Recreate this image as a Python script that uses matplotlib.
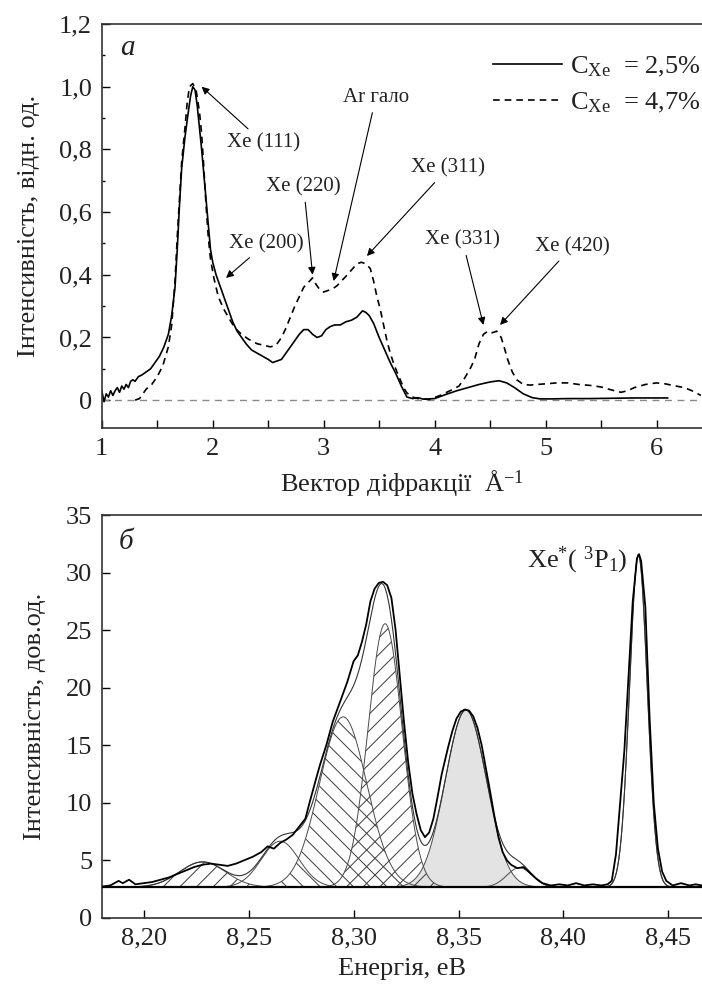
import numpy as np
import matplotlib.pyplot as plt
from matplotlib.ticker import MultipleLocator, FuncFormatter

plt.rcParams['font.family'] = ['Liberation Serif', 'DejaVu Serif']
plt.rcParams['mathtext.fontset'] = 'custom'
plt.rcParams['mathtext.rm'] = 'Liberation Serif'
plt.rcParams['mathtext.it'] = 'Liberation Serif:italic'
plt.rcParams['hatch.linewidth'] = 0.7
plt.rcParams['hatch.color'] = '#3a3a3a'

# --- панель а: дифракція ---
sol_x = [1.00, 1.02, 1.04, 1.06, 1.08, 1.10, 1.12, 1.14, 1.16, 1.18, 1.20, 1.22, 1.24,
         1.26, 1.28, 1.30, 1.33, 1.36, 1.40, 1.44, 1.48, 1.52, 1.56, 1.60, 1.63, 1.66,
         1.68, 1.70, 1.72, 1.75, 1.78, 1.80, 1.82, 1.84, 1.86, 1.88, 1.90, 1.92, 1.95,
         1.98, 2.00, 2.03, 2.06, 2.10, 2.14, 2.18, 2.22, 2.26, 2.30, 2.35, 2.40, 2.45,
         2.50, 2.54, 2.58, 2.62, 2.66, 2.70, 2.74, 2.78, 2.82, 2.86, 2.90, 2.94, 2.98,
         3.02, 3.06, 3.10, 3.15, 3.20, 3.25, 3.30, 3.35, 3.38, 3.41, 3.45, 3.50, 3.55,
         3.60, 3.65, 3.70, 3.75, 3.80, 3.85, 3.90, 3.95, 4.00, 4.10, 4.20, 4.30, 4.40,
         4.50, 4.58, 4.65, 4.72, 4.80, 4.88, 4.95, 5.05, 5.20, 5.40, 5.60, 5.80, 6.00, 6.10]
sol_y = [0.03, -0.005, 0.02, 0.01, 0.03, 0.015, 0.03, 0.04, 0.025, 0.045, 0.035, 0.05, 0.04,
         0.06, 0.065, 0.06, 0.075, 0.08, 0.09, 0.10, 0.12, 0.14, 0.17, 0.21, 0.27, 0.36,
         0.48, 0.62, 0.74, 0.84, 0.92, 0.97, 1.00, 0.99, 0.94, 0.87, 0.80, 0.72, 0.60,
         0.48, 0.44, 0.40, 0.37, 0.33, 0.29, 0.25, 0.22, 0.20, 0.18, 0.16, 0.15, 0.14,
         0.13, 0.12, 0.125, 0.13, 0.15, 0.17, 0.19, 0.21, 0.225, 0.225, 0.21, 0.20, 0.205,
         0.225, 0.235, 0.24, 0.24, 0.25, 0.255, 0.265, 0.285, 0.28, 0.27, 0.245, 0.20, 0.16,
         0.12, 0.085, 0.045, 0.01, 0.005, 0.008, 0.003, 0.004, 0.005, 0.018, 0.03, 0.04, 0.05,
         0.058, 0.062, 0.055, 0.04, 0.02, 0.008, 0.004, 0.004, 0.005, 0.005, 0.006, 0.007, 0.007, 0.007]

dash_x = [1.30, 1.34, 1.37, 1.40, 1.45, 1.50, 1.55, 1.60, 1.63, 1.66, 1.68, 1.70, 1.72, 1.75,
          1.77, 1.79, 1.82, 1.85, 1.88, 1.90, 1.92, 1.94, 1.96, 1.98, 2.01, 2.05, 2.10, 2.14,
          2.20, 2.26, 2.32, 2.40, 2.46, 2.52, 2.57, 2.62, 2.66, 2.70, 2.74, 2.78, 2.82, 2.86,
          2.90, 2.93, 2.96, 3.00, 3.04, 3.08, 3.12, 3.16, 3.20, 3.25, 3.30, 3.34, 3.38, 3.42,
          3.45, 3.48, 3.51, 3.54, 3.57, 3.60, 3.63, 3.66, 3.69, 3.72, 3.75, 3.80, 3.85, 3.95,
          4.05, 4.15, 4.22, 4.27, 4.32, 4.36, 4.40, 4.44, 4.48, 4.52, 4.56, 4.60, 4.63, 4.66,
          4.70, 4.74, 4.80, 4.86, 4.92, 5.00, 5.10, 5.20, 5.30, 5.40, 5.50, 5.60, 5.68, 5.74,
          5.80, 5.90, 6.00, 6.08, 6.16, 6.25, 6.32, 6.40]
dash_y = [0.0, 0.005, 0.02, 0.035, 0.05, 0.075, 0.11, 0.17, 0.24, 0.38, 0.52, 0.64, 0.76, 0.87,
          0.95, 1.00, 1.01, 0.99, 0.92, 0.85, 0.74, 0.62, 0.52, 0.45, 0.39, 0.33, 0.29, 0.265,
          0.23, 0.21, 0.195, 0.18, 0.175, 0.17, 0.175, 0.20, 0.23, 0.265, 0.30, 0.33, 0.36, 0.375,
          0.39, 0.37, 0.355, 0.345, 0.35, 0.355, 0.365, 0.38, 0.395, 0.415, 0.435, 0.44, 0.435, 0.42,
          0.38, 0.33, 0.29, 0.24, 0.19, 0.15, 0.118, 0.09, 0.065, 0.04, 0.023, 0.01, 0.005, 0.002,
          0.015, 0.032, 0.045, 0.07, 0.10, 0.13, 0.18, 0.21, 0.22, 0.215, 0.22, 0.20, 0.165, 0.128,
          0.09, 0.065, 0.05, 0.048, 0.05, 0.052, 0.055, 0.055, 0.05, 0.047, 0.042, 0.032, 0.025, 0.03,
          0.04, 0.05, 0.055, 0.052, 0.046, 0.04, 0.03, 0.015]

# підписи рефлексів: текст, (x,y) тексту, (x,y) вістря
peak_labels = ['Xe (111)', 'Xe (200)', 'Xe (220)', 'Ar гало', 'Xe (311)', 'Xe (331)', 'Xe (420)']
label_xy = [(2.46, 0.82), (2.48, 0.50), (2.82, 0.68), (3.47, 0.965), (4.12, 0.74), (4.25, 0.51), (5.24, 0.49)]
tip_xy = [(1.90, 1.0), (2.12, 0.39), (2.90, 0.40), (3.09, 0.38), (3.39, 0.46), (4.44, 0.24), (4.59, 0.24)]

# --- панель б: спектр ---
spec_x = [8.180, 8.184, 8.188, 8.190, 8.193, 8.196, 8.200, 8.204, 8.208, 8.212, 8.216, 8.220,
          8.224, 8.228, 8.232, 8.236, 8.240, 8.244, 8.248, 8.252, 8.256, 8.259, 8.262, 8.265,
          8.268, 8.271, 8.274, 8.277, 8.279, 8.282, 8.284, 8.287, 8.290, 8.294, 8.297, 8.300,
          8.302, 8.304, 8.306, 8.308, 8.310, 8.312, 8.314, 8.316, 8.318, 8.320, 8.322, 8.324,
          8.326, 8.328, 8.330, 8.332, 8.334, 8.336, 8.338, 8.340, 8.342, 8.345, 8.347, 8.349,
          8.351, 8.353, 8.355, 8.357, 8.359, 8.361, 8.363, 8.365, 8.367, 8.369, 8.371, 8.373,
          8.375, 8.378, 8.381, 8.384, 8.387, 8.390, 8.394, 8.398, 8.402, 8.406, 8.410, 8.414,
          8.418, 8.421, 8.423, 8.425, 8.427, 8.429, 8.431, 8.433, 8.435, 8.436, 8.437, 8.439,
          8.441, 8.443, 8.445, 8.447, 8.449, 8.452, 8.456, 8.460, 8.463, 8.466]
spec_y = [2.7, 2.8, 3.2, 3.0, 3.3, 2.9, 3.0, 3.1, 3.3, 3.5, 3.8, 4.1,
          4.4, 4.6, 4.7, 4.6, 4.5, 4.7, 5.0, 5.3, 5.7, 6.2, 6.0, 6.5,
          6.8, 7.2, 7.9, 8.6, 10.0, 12.0, 13.3, 15.0, 17.0, 19.0, 20.5, 22.3,
          22.8, 24.0, 25.5, 27.5, 28.6, 29.1, 29.2, 28.9, 27.8, 25.0, 21.0, 17.0,
          13.5, 10.8, 9.0, 7.6, 7.0, 7.4, 8.6, 10.5, 12.5, 14.8, 16.2, 17.3,
          17.9, 18.1, 18.0, 17.5, 16.5, 15.0, 13.0, 11.0, 8.9, 7.0, 5.7, 5.0,
          4.6, 4.3, 4.4, 3.9, 3.4, 3.0, 2.8, 2.9, 2.8, 3.0, 2.8, 2.9,
          2.8, 2.9, 3.2, 5.5, 10.0, 14.5, 21.0, 27.5, 31.2, 31.6, 31.0, 27.0,
          17.5, 10.0, 6.0, 4.0, 3.2, 2.8, 3.0, 2.8, 2.9, 2.8]

baseline = 2.65
# гаусові компоненти: центр, висота над фоном, ширина (sigma)
comp_center = [8.228, 8.265, 8.295, 8.315, 8.3535, 8.379, 8.4357]
comp_height = [2.2, 4.0, 14.8, 22.9, 15.4, 1.7, 28.9]
comp_sigma = [0.011, 0.009, 0.0113, 0.0081, 0.0098, 0.006, 0.0042]
comp_hatch = ['//', None, '\\\\', '//', None, None, None]
comp_face = ['none', 'none', 'none', 'none', '#e3e3e3', 'none', 'none']

ink = '#222222'

fig = plt.figure(figsize=(7.02, 9.84), dpi=100)
ax1 = fig.add_axes([0.145, 0.565, 0.855, 0.4106])
ax2 = fig.add_axes([0.145, 0.0674, 0.855, 0.4092])

# ---------- а ----------
ax1.axhline(0, color='#8a8a8a', lw=1.0, ls=(0, (5, 4)))
ax1.plot(sol_x, sol_y, color='black', lw=1.2, label=r'C$_{\mathrm{Xe}}$  = 2,5%')
ax1.plot(dash_x, dash_y, color='black', lw=1.2, ls=(0, (4, 3)), label=r'C$_{\mathrm{Xe}}$  = 4,7%')

for txt, xyt, xy in zip(peak_labels, label_xy, tip_xy):
    ax1.annotate(txt, xy=xy, xytext=xyt, ha='center', va='center', fontsize=15, color=ink,
                 arrowprops=dict(arrowstyle='-|>', color='black', lw=0.8,
                                 mutation_scale=11, shrinkA=2, shrinkB=0))

ax1.text(0.042, 0.94, 'a', transform=ax1.transAxes, fontsize=21, style='italic',
         ha='center', va='center', color=ink)

leg = ax1.legend(loc='upper right', bbox_to_anchor=(1.015, 0.95), frameon=False, fontsize=19,
                 handlelength=2.6, handletextpad=0.3, labelspacing=0.45, borderaxespad=0)
for t in leg.get_texts():
    t.set_color(ink)

ax1.set_xlim(1, 6.41)
ax1.set_ylim(-0.089, 1.2001)
ax1.xaxis.set_major_locator(MultipleLocator(1))
ax1.xaxis.set_minor_locator(MultipleLocator(0.5))
ax1.yaxis.set_major_locator(MultipleLocator(0.2))
ax1.yaxis.set_minor_locator(MultipleLocator(0.1))
ax1.yaxis.set_major_formatter(FuncFormatter(
    lambda v, p: '0' if abs(v) < 1e-9 else f'{v:.1f}'.replace('.', ',')))
ax1.set_xlabel('Вектор діфракції  Å$^{-1}$', fontsize=19, color=ink, labelpad=6)
ax1.set_ylabel('Інтенсивність, відн. од.', fontsize=19, color=ink, labelpad=14)

# ---------- б ----------
xs = np.linspace(8.18, 8.466, 1500)
total = np.full_like(xs, baseline)
for c, h, s, hat, fc in zip(comp_center, comp_height, comp_sigma, comp_hatch, comp_face):
    g = h * np.exp(-0.5 * ((xs - c) / s) ** 2)
    total += g
    if fc != 'none':
        ax2.fill_between(xs, baseline, baseline + g, facecolor=fc, edgecolor='none', zorder=1)
for c, h, s, hat, fc in zip(comp_center, comp_height, comp_sigma, comp_hatch, comp_face):
    g = h * np.exp(-0.5 * ((xs - c) / s) ** 2)
    if hat:
        ax2.fill_between(xs, baseline, baseline + g, facecolor='none', edgecolor='#3a3a3a',
                         hatch=hat, linewidth=0, zorder=2)
    ax2.plot(xs, baseline + g, color='#4a4a4a', lw=0.7, zorder=3)

ax2.plot(xs, total, color='#333333', lw=0.8, zorder=4)
ax2.plot(spec_x, spec_y, color='black', lw=1.3, zorder=5)
ax2.axhline(baseline, color='black', lw=1.6, zorder=6)

ax2.text(0.04, 0.933, 'б', transform=ax2.transAxes, fontsize=21, style='italic',
         ha='center', va='center', color=ink)
ax2.text(8.4303, 31.1, r'Xe$^{*}$( $^{3}$P$_{1}$)', fontsize=19, ha='right', va='center', color=ink)

ax2.set_xlim(8.18, 8.466)
ax2.set_ylim(0, 35)
ax2.xaxis.set_major_locator(MultipleLocator(0.05))
ax2.yaxis.set_major_locator(MultipleLocator(5))
ax2.xaxis.set_major_formatter(FuncFormatter(lambda v, p: f'{v:.2f}'.replace('.', ',')))
ax2.set_xlabel('Енергія, еВ', fontsize=19, color=ink, labelpad=6)
ax2.set_ylabel('Інтенсивність, дов.од.', fontsize=19, color=ink, labelpad=14)

for ax in (ax1, ax2):
    ax.spines['right'].set_visible(False)
    for sp in ('left', 'bottom', 'top'):
        ax.spines[sp].set_linewidth(1.2)
        ax.spines[sp].set_color('#333333')
    ax.tick_params(which='major', direction='in', length=6, width=1.0, labelsize=19,
                   labelcolor=ink, pad=7, top=False, right=False)
    ax.tick_params(which='minor', direction='in', length=2.5, width=1.0, top=False, right=False)
ax1.tick_params(axis='x', which='minor', length=6)

fig.savefig('out.png', dpi=100)
